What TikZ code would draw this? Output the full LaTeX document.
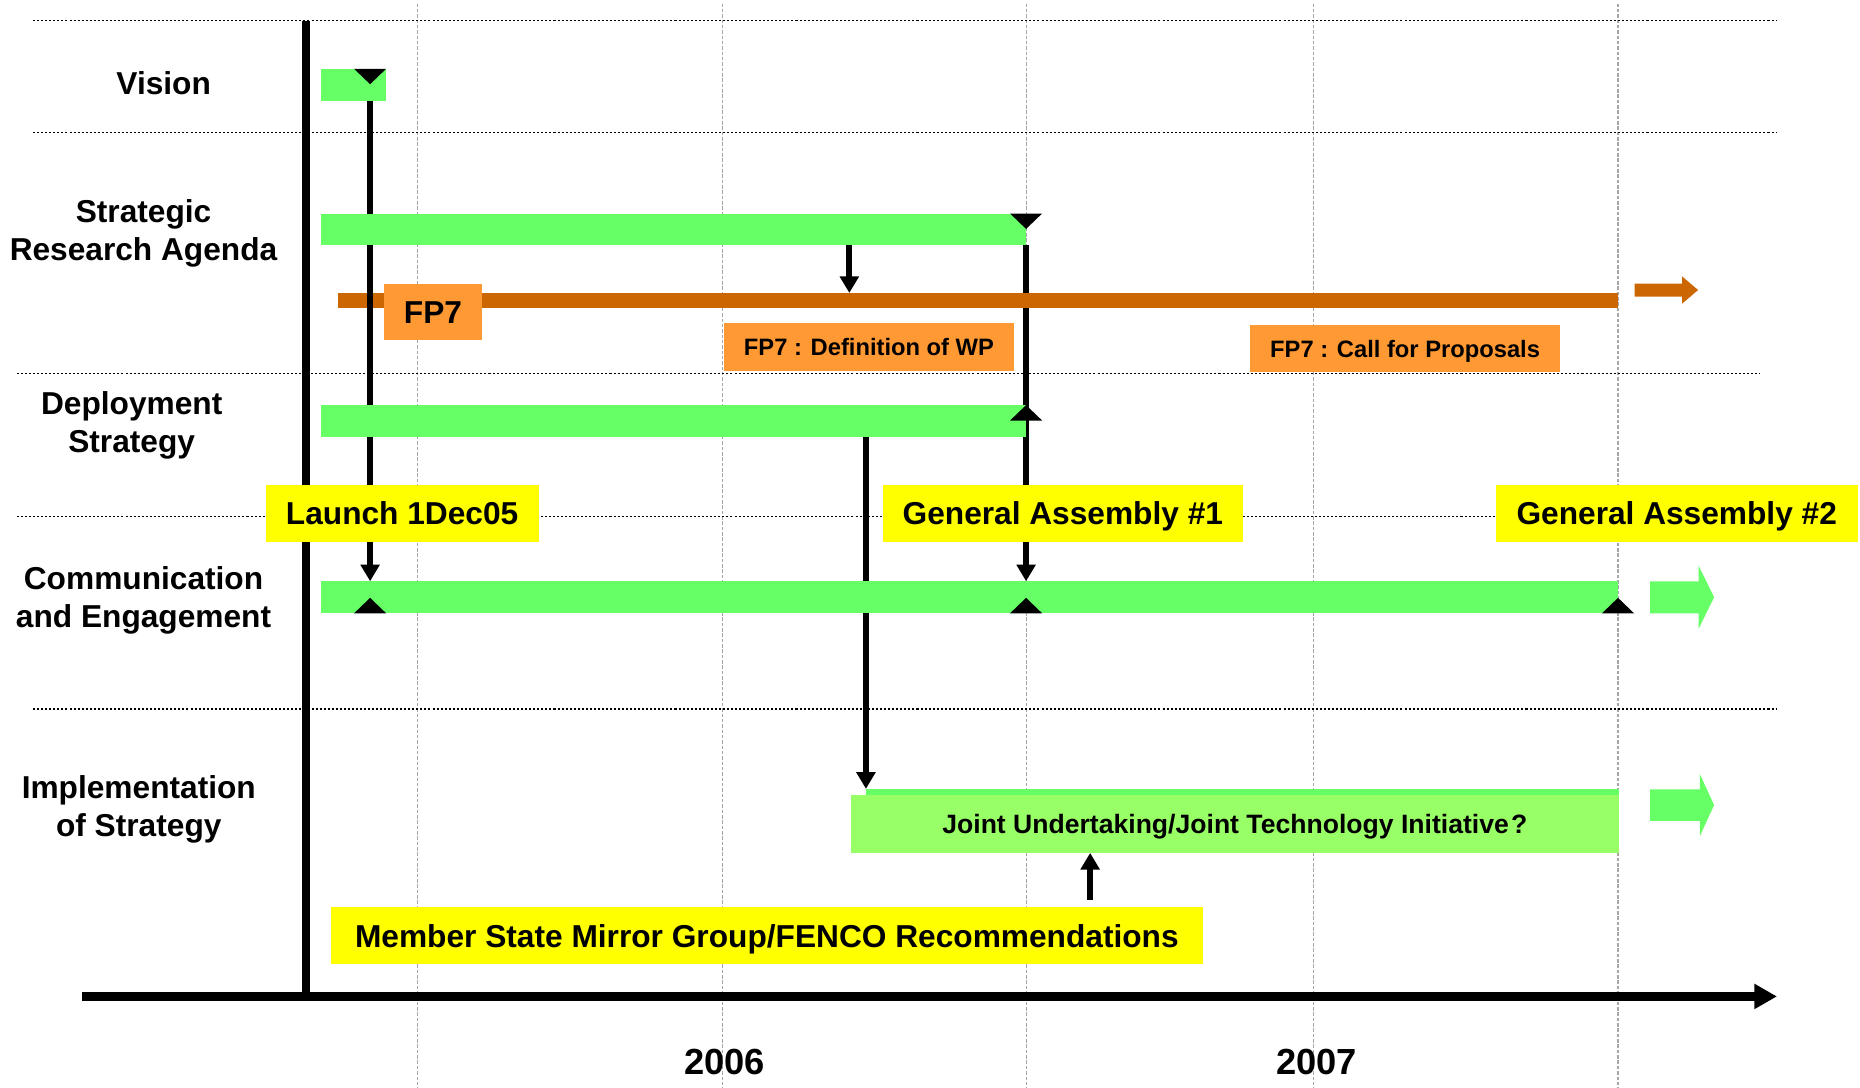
\documentclass[tikz,border=0pt]{standalone}
\usepackage{fontspec}
\setmainfont{Liberation Sans}
\usetikzlibrary{arrows.meta}
\definecolor{bargreen}{HTML}{66FF66}
\definecolor{jugreen}{HTML}{99FF66}
\definecolor{tagyellow}{HTML}{FFFF00}
\definecolor{fpboxorange}{HTML}{FF9933}
\definecolor{fplineorange}{HTML}{CC6600}
\newcommand{\lblfnt}{\bfseries\fontsize{26.7}{32}\selectfont}
\newcommand{\boxfnt}{\bfseries\fontsize{20}{24}\selectfont}
\newcommand{\jufnt}{\bfseries\fontsize{22.4}{27}\selectfont}
\newcommand{\yrfnt}{\bfseries\fontsize{30.6}{36}\selectfont}
\newcommand{\tridown}[1]{\fill #1 +(-13.5,0) -- +(13.5,0) -- +(0,13) -- cycle;}
\newcommand{\triup}[1]{\fill #1 +(-13.5,0) -- +(13.5,0) -- +(0,-13) -- cycle;}
\pgfdeclarelayer{back}
\pgfdeclarelayer{links}
\pgfsetlayers{back,links,main}

\begin{document}
\begin{tikzpicture}[x=1pt,y=-1pt,
  bar/.style={fill=bargreen, inner sep=0pt, outer sep=0pt, anchor=north west},
  tag/.style={fill=tagyellow, inner sep=0pt, outer sep=0pt, minimum height=48pt, anchor=north west, font=\lblfnt, text height=19.1pt, text depth=0pt},
  fpbox/.style={fill=fpboxorange, inner sep=0pt, outer sep=0pt, anchor=north west, font=\boxfnt, text height=14.3pt, text depth=0pt},
  rowlbl/.style={align=center, font=\lblfnt},
  link/.style={line width=5.3pt, -{Triangle[width=15.5pt,length=14pt]}},
  sep/.style={line width=1.2pt, dash pattern=on 1.7pt off 1.7pt},
  gridl/.style={gray!70, line width=1pt, dash pattern=on 3pt off 1.5pt}]
\useasboundingbox (0,0) rectangle (1568,917);

% milestones
\coordinate (launch) at (312,0);
\coordinate (ga1) at (865,0);
\coordinate (ga2) at (1364,0);
\coordinate (wp) at (716,0);
\coordinate (ju) at (730,0);
\coordinate (msx) at (919,0);
\coordinate (axtop) at (258,17.4);
\coordinate (axbot) at (258,843.5);
\coordinate (tstart) at (69,840);
\coordinate (tend) at (1498,840);

% row labels
\node[rowlbl] (lvis) at (138,70) {Vision};
\node[rowlbl] (lsra) at (121,197) {Strategic\\Research Agenda};
\node[rowlbl] (ldep) at (111,359) {Deployment\\Strategy};
\node[rowlbl] (lcomm) at (121,506.5) {Communication\\and Engagement};
\node[rowlbl] (limpl) at (117,682) {Implementation\\of Strategy};
\node[font=\yrfnt] (y2006) at (611,895) {2006};
\node[font=\yrfnt] (y2007) at (1110,895) {2007};

% bars
\node[bar, minimum width=54pt, minimum height=27pt] (vis) at (271,58) {};
\node[bar, minimum width=594pt, minimum height=26.5pt] (sra) at (271,180) {};
\node[bar, minimum width=594pt, minimum height=26.5pt] (dep) at (271,341.5) {};
\node[bar, minimum width=1093pt, minimum height=27pt] (comm) at (271,490) {};
\node[bar, minimum width=635pt, minimum height=5pt] (justrip) at (730,665) {};
\node[bar, fill=jugreen, minimum width=648pt, minimum height=49pt, font=\jufnt, text height=16pt, text depth=0pt] (jubox) at (717,670) {Joint Undertaking/Joint Technology Initiative\kern2pt?};

% boxes
\node[fpbox, minimum width=82pt, minimum height=48pt, font=\lblfnt, text height=19.1pt] (fp7) at (324,239) {FP7};
\node[fpbox, minimum width=245pt, minimum height=40pt] (fpwp) at (610,272.5) {FP7 : Definition of WP};
\node[fpbox, minimum width=261pt, minimum height=40pt] (fpcall) at (1054,274) {FP7 : Call for Proposals};
\node[tag, minimum width=230pt] (tlaunch) at (224,409) {Launch 1Dec05};
\node[tag, minimum width=304pt] (tga1) at (744,409) {General Assembly \#1};
\node[tag, minimum width=305pt] (tga2) at (1261,409) {General Assembly \#2};
\node[tag, minimum width=735pt] (tms) at (279,765) {Member State Mirror Group/FENCO Recommendations};

\begin{pgfonlayer}{back}
\foreach \gx in {352,609,865,1107,1364}
  \draw[gridl] (\gx,3) -- (\gx,917);
\foreach \xa/\xb/\yy in {28/1497/17.4, 28/1497/111.8, 14/1483/314.8, 14/1497/435.5, 28/1497/597.8}
  \draw[sep] (\xa,\yy) -- (\xb,\yy);
\draw[line width=6.5pt] (axtop) -- (axbot);
\draw[line width=7pt, -{Triangle[width=20pt,length=19pt]}] (tstart) -- (tend);
\draw[link] (sra.south -| ga1) -- (comm.north -| ga1);
\end{pgfonlayer}

\begin{pgfonlayer}{links}
\node[bar, fill=fplineorange, minimum width=1079pt, minimum height=13pt] (fpline) at (285,247) {};
\draw[link] (vis.south -| launch) -- (comm.north -| launch);
\draw[link] (sra.south -| wp) -- (fpline.north -| wp);
\draw[link] (dep.south -| ju) -- (justrip.north -| ju);
\draw[link, shorten <=6pt] (tms.north -| msx) -- (jubox.south -| msx);
\end{pgfonlayer}

% milestone marks
\tridown{(vis.north -| launch)}
\tridown{(sra.north -| ga1)}
\fill (dep.north -| ga1) -- +(13.5,13) -- +(-13.5,13) -- cycle;
\triup{(comm.south -| launch)}
\triup{(comm.south -| ga1)}
\triup{(comm.south -| ga2)}

% continuing arrows
\fill[fplineorange] (1378,239) -- (1418,239) -- (1418,233) -- (1431.5,244.5) -- (1418,256) -- (1418,250) -- (1378,250) -- cycle;
\fill[bargreen] (1391,490) -- (1432,490) -- (1432,477) -- (1445,503.5) -- (1432,530) -- (1432,517) -- (1391,517) -- cycle;
\fill[bargreen] (1391,665.5) -- (1433,665.5) -- (1433,652.6) -- (1445,678.7) -- (1433,704.8) -- (1433,692) -- (1391,692) -- cycle;
\end{tikzpicture}
\end{document}
